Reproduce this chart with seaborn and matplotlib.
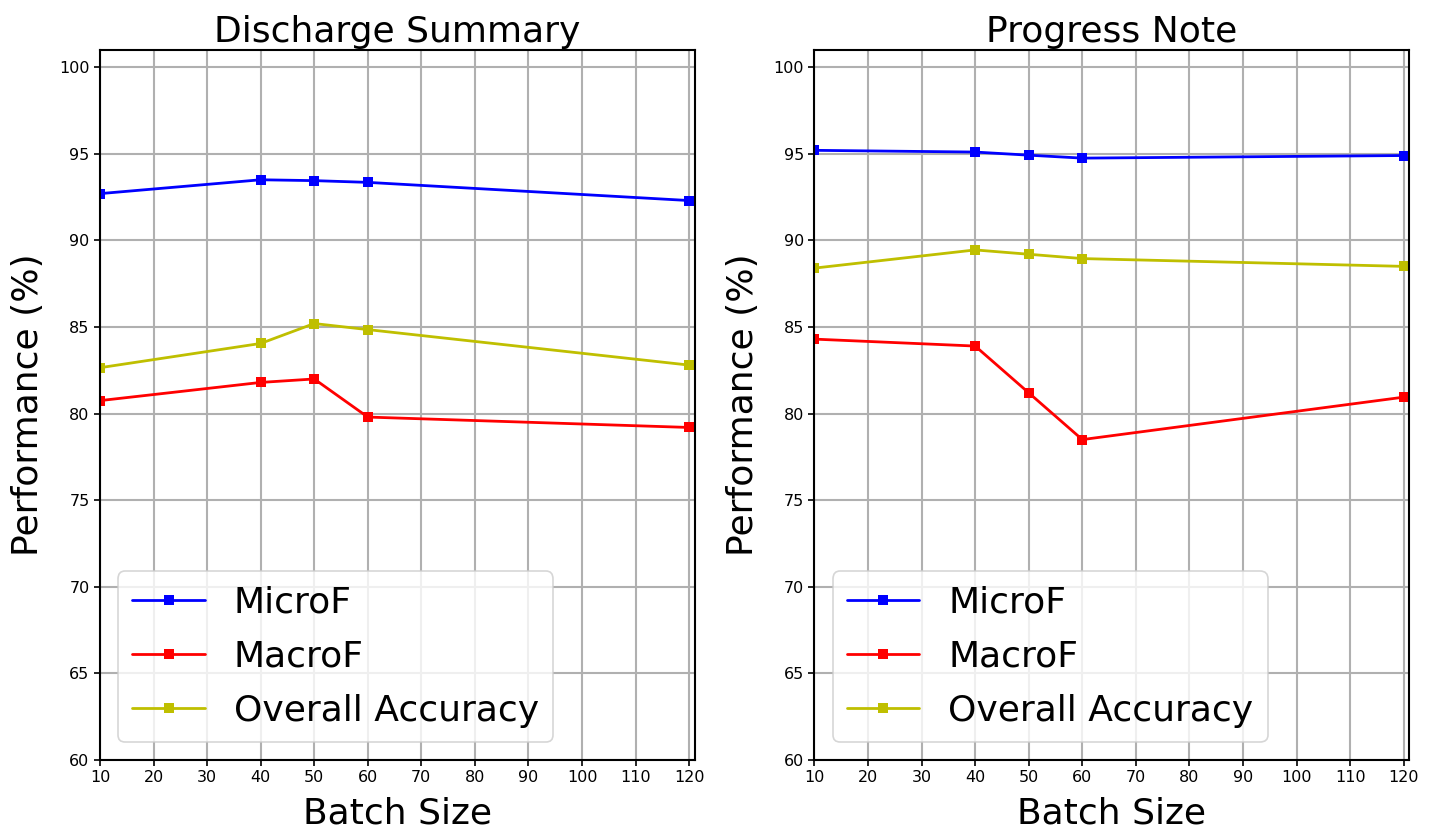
import matplotlib
matplotlib.use("Agg")
import matplotlib.pyplot as plt
import seaborn as sns
import pandas as pd
import numpy as np

batch_sizes = [10, 40, 50, 60, 120]
series_names = ["MicroF", "MacroF", "Overall Accuracy"]
series_colors = ["#0000ff", "#ff0000", "#bfbf00"]

discharge_micro = [92.7, 93.5, 93.45, 93.35, 92.3]
discharge_macro = [80.75, 81.8, 82.0, 79.8, 79.2]
discharge_acc = [82.65, 84.05, 85.2, 84.85, 82.8]

progress_micro = [95.2, 95.1, 94.92, 94.75, 94.9]
progress_macro = [84.3, 83.9, 81.2, 78.5, 80.95]
progress_acc = [88.4, 89.45, 89.2, 88.95, 88.5]

titles = ["Discharge Summary", "Progress Note"]
panels = [
    [discharge_micro, discharge_macro, discharge_acc],
    [progress_micro, progress_macro, progress_acc],
]

sns.set_style("ticks")
plt.rcParams["font.family"] = ["DejaVu Sans"]
plt.rcParams["text.color"] = "black"
plt.rcParams["axes.labelcolor"] = "black"
plt.rcParams["xtick.color"] = "black"
plt.rcParams["ytick.color"] = "black"

fig, axes = plt.subplots(1, 2, figsize=(14.34, 8.31), dpi=100)
fig.subplots_adjust(left=0.0697, right=0.9826, top=0.94, bottom=0.0854, wspace=0.2017)

for ax, title, vals in zip(axes, titles, panels):
    rows = []
    for name, v in zip(series_names, vals):
        for b, y in zip(batch_sizes, v):
            rows.append({"Batch Size": b, "value": y, "series": name})
    df = pd.DataFrame(rows)
    sns.lineplot(data=df, x="Batch Size", y="value", hue="series",
                 hue_order=series_names, palette=series_colors,
                 marker="s", markersize=7, markeredgewidth=0, linewidth=2,
                 ax=ax)
    ax.set_xlim(10, 121)
    ax.set_ylim(60, 101)
    ax.set_xticks(np.arange(10, 121, 10))
    ax.set_yticks(np.arange(60, 101, 5))
    ax.grid(True, color="#b0b0b0", linewidth=1.5)
    ax.set_axisbelow(True)
    for s in ax.spines.values():
        s.set_color("black")
        s.set_linewidth(1.5)
    ax.tick_params(axis="both", labelsize=11.5, direction="out", length=4, width=1.2, color="black",
                   labelcolor="black")
    ax.set_title(title, fontsize=26, color="black")
    ax.set_xlabel("Batch Size", fontsize=26, color="black", labelpad=8)
    ax.set_ylabel("Performance (%)", fontsize=26, color="black", labelpad=10)
    leg = ax.legend(loc="lower left", fontsize=26, frameon=True, borderpad=0.4,
                    labelspacing=0.55, handlelength=2.0, handletextpad=0.8)
    for t in leg.get_texts():
        t.set_color("black")
    leg.get_frame().set_edgecolor("#cccccc")
    leg.get_frame().set_linewidth(1.2)

fig.savefig("out.png", dpi=100)
